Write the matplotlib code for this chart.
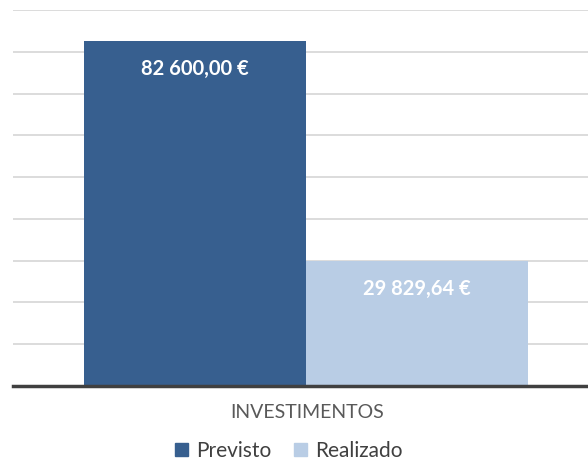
import matplotlib
matplotlib.use("Agg")
import matplotlib.pyplot as plt
from matplotlib.patches import Patch

# dados
series = ["Previsto", "Realizado"]
valores = [82600.00, 29829.64]
rotulos = ["82 600,00 €", "29 829,64 €"]
categoria = "INVESTIMENTOS"
cores = ["#375F8F", "#B9CDE5"]

plt.rcParams['font.family'] = ['Lato', 'DejaVu Sans']

fig = plt.figure(figsize=(5.88, 4.67), dpi=100)
ax = fig.add_axes([13/588, 81/467, 1 - 13/588, 376/467])

pos = [-0.5, 0.5]
bars = ax.bar(pos, valores, width=1.0, color=cores, zorder=2)

for b, txt in zip(bars, rotulos):
    ax.annotate(txt, (b.get_x() + b.get_width()/2, b.get_height()),
                xytext=(0, -28), textcoords="offset pixels",
                ha="center", va="center", color="white", fontsize=14.5, fontweight="bold")

ax.set_xlim((13-306)/222, (588-306)/222)
ax.set_ylim(0, 90000)
ax.set_yticks(range(0, 90001, 10000))
ax.yaxis.grid(True, color="#d9d9d9", linewidth=1.3, zorder=0)
ax.set_axisbelow(True)
ax.tick_params(left=False, labelleft=False, bottom=False, labelbottom=False)
for s in ["top", "right", "left"]:
    ax.spines[s].set_visible(False)
ax.spines["bottom"].set_color("#404040")
ax.spines["bottom"].set_linewidth(2.5)
ax.spines["bottom"].set_zorder(3)

fig.text(307/588, 1 - 413/467, categoria, ha="center", va="center",
         color="#595959", fontsize=14)

handles = [Patch(color=c, label=s) for c, s in zip(cores, series)]
leg = fig.legend(handles=handles, loc="center", bbox_to_anchor=(289/588, 1 - 451/467),
                 ncol=2, frameon=False, fontsize=15, handlelength=0.6, handleheight=0.6,
                 handletextpad=0.4, columnspacing=1.1)
for t in leg.get_texts():
    t.set_color("#404040")

fig.savefig("out.png", dpi=100)
